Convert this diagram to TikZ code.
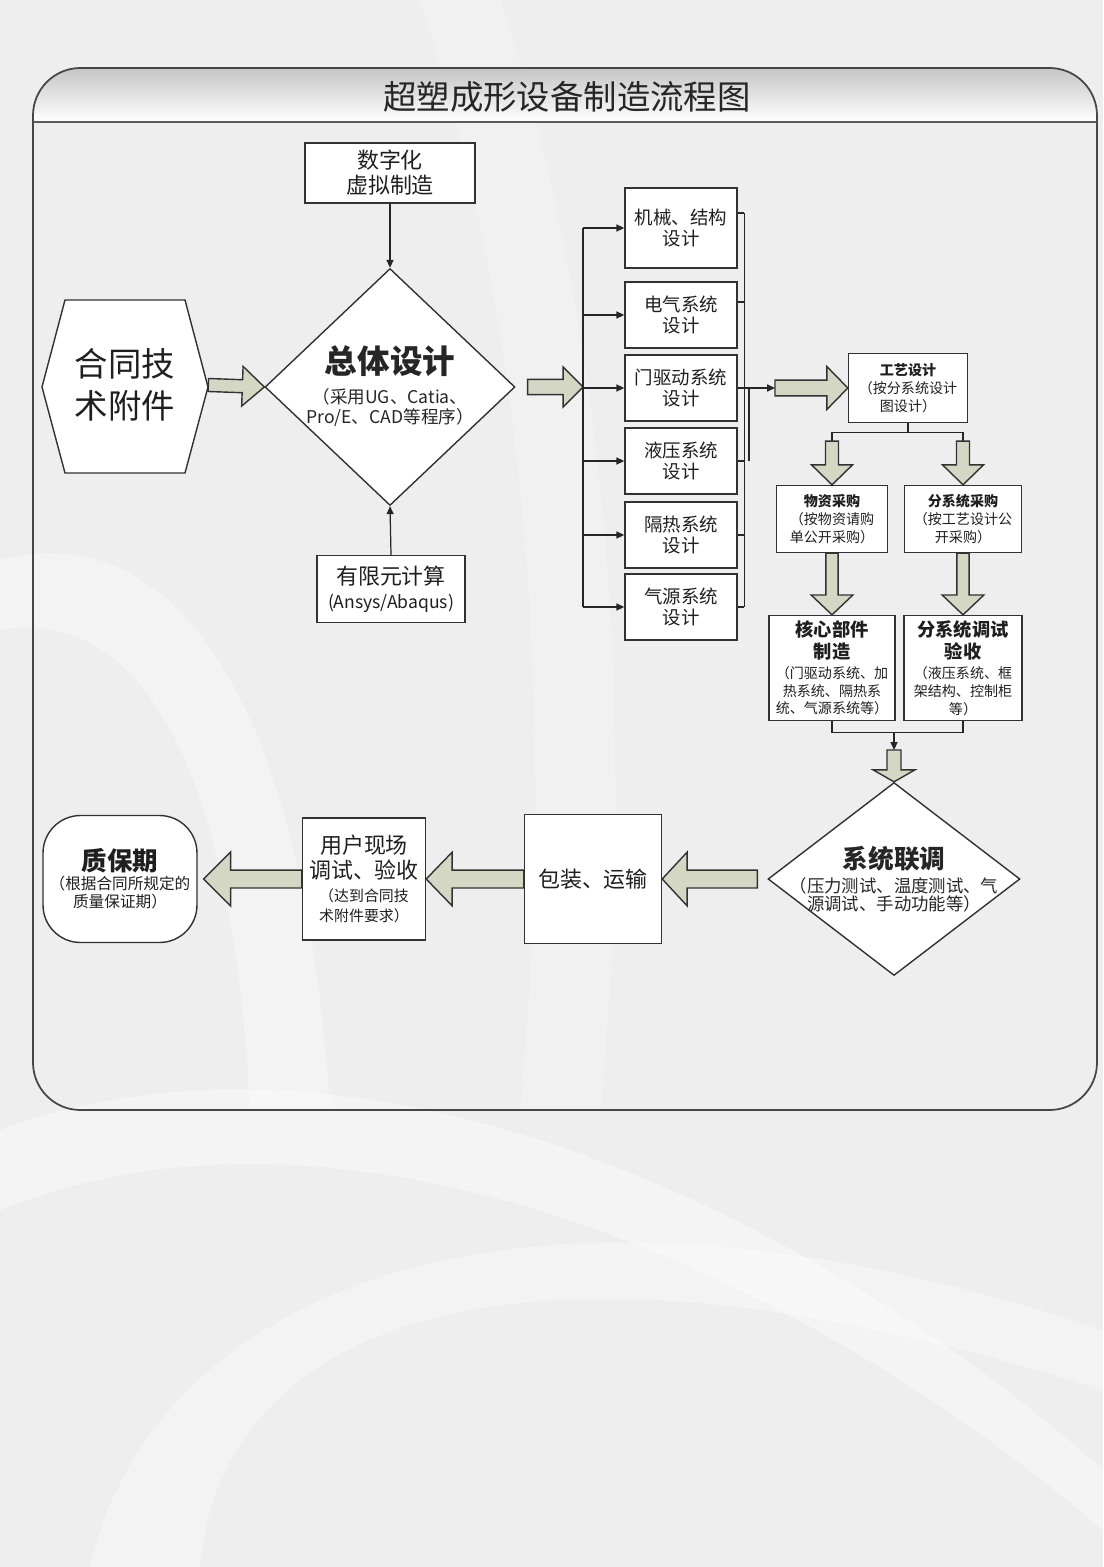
\documentclass[tikz,border=0pt]{standalone}
\usepackage{fontspec}
\setmainfont{Noto Sans CJK SC}
\usetikzlibrary{calc, arrows.meta, shapes.geometric}

\definecolor{pagegray}{RGB}{238,238,238}
\definecolor{arrowfill}{RGB}{212,215,196}
\definecolor{inkgray}{RGB}{50,50,50}
\definecolor{framegray}{RGB}{70,70,70}

\begin{document}
\begin{tikzpicture}[%
        x = 0.02cm,
        y = -0.02cm,
        > = {Triangle[length = 4.5pt, width = 4pt]},
        outline/.style = {%
            draw = inkgray,
            line width = 0.8pt,
            fill = white
        },
        box/.style = {%
            outline,
            align = center,
            inner sep = 1pt,
            text = black!88
        },
        design/.style = {%
            box,
            minimum width = 2.24cm,
            minimum height = 1.32cm,
            font = \fontsize{10.5}{12}\selectfont
        },
        decision/.style = {%
            outline,
            diamond,
            inner sep = 0pt
        },
        link/.style = {%
            draw = black!85,
            line width = 0.7pt
        },
        arrow/.style = {%
            link,
            ->
        },
        fat/.style n args = {3}{%
            draw = inkgray,
            line width = 0.8pt,
            fill = arrowfill,
            to path = {%
                let \p1 = (\tikztostart), \p2 = (\tikztotarget),
                    \p3 = ($(\p2)!#3!(\p1)$) in
                ($(\p1)!#1!90:(\p2)$) -- ($(\p3)!#1!90:(\p2)$)
                -- ($(\p3)!#2!90:(\p2)$) -- (\p2)
                -- ($(\p3)!#2!-90:(\p2)$) -- ($(\p3)!#1!-90:(\p2)$)
                -- ($(\p1)!#1!-90:(\p2)$) -- cycle
            }
        }
    ]

        % Page background with soft white swooshes.
        \fill[pagegray] (0,0) rectangle (1103,1567);
        \fill[white, opacity = 0.2] (420,0) .. controls (520,300) and (560,700) .. (520,1110)
            -- (600,1110) .. controls (640,700) and (600,300) .. (500,0) -- cycle;
        \fill[white, opacity = 0.3] (0,560) .. controls (150,520) and (300,650) .. (330,1110)
            -- (250,1110) .. controls (230,720) and (120,610) .. (0,630) -- cycle;
        \fill[white, opacity = 0.4] (0,1130) .. controls (350,1000) and (800,1200) .. (1103,1470)
            -- (1103,1530) .. controls (800,1270) and (350,1070) .. (0,1210) -- cycle;
        \fill[white, opacity = 0.3] (90,1567) .. controls (150,1300) and (500,1130) .. (1103,1330)
            -- (1103,1390) .. controls (500,1200) and (220,1330) .. (200,1567) -- cycle;

        % Frame with the shaded title band.
        \begin{scope}
            \clip[rounded corners = 0.95cm] (33,68) rectangle (1097,1110);
            \shade[top color = gray!45, bottom color = white] (33,68) rectangle (1097,122);
        \end{scope}
        \draw[framegray, line width = 1pt, rounded corners = 0.95cm] (33,68) rectangle (1097,1110);
        \draw[gray!70!black, line width = 1.4pt] (33,122) -- (1097,122);
        \node[font = \fontsize{19}{22}\selectfont, text = black!85] (title) at (567,97) {超塑成形设备制造流程图};

        % Contract appendix, drawn as a hexagon.
        \filldraw[outline] (42,387) -- (65,300) -- (185,300) -- (208,387) -- (185,473) -- (65,473) -- cycle;
        \node[align = center, minimum width = 3.32cm, minimum height = 3.46cm,
            font = \fontsize{19}{23.8}\selectfont, text = black!88] (contract) at (125,385) {合同技\\术附件};

        % Overall design with its two inputs.
        \node[box, minimum width = 3.4cm, minimum height = 1.2cm,
            font = \fontsize{12.5}{14.2}\selectfont] (digital) at (390,173) {数字化\\虚拟制造};
        \node[decision, minimum width = 5cm, minimum height = 4.74cm] (overall) at (390,387) {};
        \node[align = center, font = \fontsize{10}{11.3}\selectfont, text = black!85] (overalltext) at (390,386)
            {{\fontsize{18.5}{20}\selectfont\bfseries 总体设计}\\[6pt]（采用UG、Catia、\\Pro/E、CAD等程序）};
        \node[box, minimum width = 2.96cm, minimum height = 1.34cm,
            font = \fontsize{12.5}{13.5}\selectfont] (fem) at (391,589)
            {有限元计算\\{\fontsize{10}{12}\selectfont (Ansys/Abaqus)}};

        % Sub-system design boxes.
        \node[design, minimum height = 1.6cm] (mech) at (681,228) {机械、结构\\设计};
        \node[design] (elec) at (681,315) {电气系统\\设计};
        \node[design] (door) at (681,388) {门驱动系统\\设计};
        \node[design] (hyd) at (681,461) {液压系统\\设计};
        \node[design] (heat) at (681,535) {隔热系统\\设计};
        \node[design] (air) at (681,607) {气源系统\\设计};

        % Process design, purchasing, manufacture and tests.
        \node[box, minimum width = 2.38cm, minimum height = 1.38cm,
            font = \fontsize{8}{10.2}\selectfont] (process) at (908,388)
            {{\bfseries 工艺设计}\\（按分系统设计\\图设计）};
        \node[box, minimum width = 2.22cm, minimum height = 1.34cm,
            font = \fontsize{8}{10.2}\selectfont] (material) at (832,519)
            {{\bfseries 物资采购}\\（按物资请购\\单公开采购）};
        \node[box, minimum width = 2.34cm, minimum height = 1.34cm,
            font = \fontsize{8}{10.2}\selectfont] (subbuy) at (963,519)
            {{\bfseries 分系统采购}\\（按工艺设计公\\开采购）};
        \node[box, minimum width = 2.52cm, minimum height = 2.1cm,
            font = \fontsize{8}{10.2}\selectfont] (core) at (832,668)
            {{\fontsize{10.4}{12}\selectfont\bfseries 核心部件}\\[2.3pt]{\fontsize{10.4}{12}\selectfont\bfseries 制造}\\[1pt]%
            （门驱动系统、加\\热系统、隔热系\\统、气源系统等）};
        \node[box, minimum width = 2.36cm, minimum height = 2.1cm,
            font = \fontsize{8}{10.2}\selectfont] (subtest) at (963,668)
            {{\fontsize{10.4}{12}\selectfont\bfseries 分系统调试}\\[2.3pt]{\fontsize{10.4}{12}\selectfont\bfseries 验收}\\[1pt]%
            （液压系统、框\\架结构、控制柜\\等）};

        % System joint test and the bottom row.
        \node[decision, minimum width = 5.04cm, minimum height = 3.86cm] (joint) at (894,879) {};
        \node[align = center, font = \fontsize{9.9}{10.2}\selectfont, text = black!85] (jointtext) at (894,879)
            {{\fontsize{14.6}{16}\selectfont\bfseries 系统联调}\\[3.2pt]（压力测试、温度测试、气\\源调试、手动功能等）};
        \node[box, minimum width = 2.74cm, minimum height = 2.58cm,
            font = \fontsize{12.5}{14}\selectfont] (pack) at (593,879) {包装、运输};
        \node[box, minimum width = 2.46cm, minimum height = 2.44cm,
            font = \fontsize{8.5}{11.5}\selectfont] (user) at (364,879)
            {{\fontsize{12.5}{13}\selectfont 用户现场}\\[1.5pt]{\fontsize{12.5}{13}\selectfont 调试、验收}\\[1.5pt]%
            （达到合同技\\术附件要求）};
        \node[box, rounded corners = 0.75cm, minimum width = 3.08cm, minimum height = 2.54cm,
            font = \fontsize{8.9}{10.2}\selectfont] (warranty) at (120,879)
            {{\fontsize{14.5}{16}\selectfont\bfseries 质保期}\\[0.7pt]（根据合同所规定的\\质量保证期）};

        % Inputs to the overall design.
        \draw[arrow] (digital.south) -- (overall.north);
        \draw[arrow] (fem.north) -- (overall.south);
        \draw[fat = {3.7pt}{11.3pt}{12.5pt}] (contract.east) to (overall.west);

        % Left bus feeding the design boxes.
        \coordinate (busL) at (583,387);
        \draw[fat = {4.3pt}{11.3pt}{11.3pt}] ([xshift = 0.24cm]overall.east) to (overall.east -| busL);
        \draw[link] (mech.west -| busL) -- (air.west -| busL);
        \foreach \part in {mech, elec, door, hyd, heat, air}
            \draw[arrow] (\part.west -| busL) -- (\part.west);

        % Right bus collecting the design boxes.
        \foreach \part/\dy in {mech/0.3cm, elec/0.26cm, door/0cm, hyd/0cm, heat/0cm, air/0cm}
            \draw[link] ([yshift = \dy]\part.east) -- ++(0.13cm,0);
        \draw[link] ([xshift = 0.13cm, yshift = 0.3cm]mech.east) -- ([xshift = 0.13cm]air.east);
        \draw[link, line width = 1.3pt] ([xshift = 0.22cm]door.east) -- ([xshift = 0.22cm]hyd.east);
        \coordinate (procin) at (775,388);
        \draw[arrow] ([xshift = 0.13cm]door.east) -- (procin);
        \draw[fat = {4.5pt}{12.2pt}{11.9pt}] (procin) to (process.west);

        % Split below the process design.
        \draw[link] (process.south) -- ++(0,9) coordinate (split);
        \draw[link] (material.north |- split) -- (subbuy.north |- split);
        \foreach \part in {material, subbuy} {
            \draw[link] (\part.north |- split) -- ++(0,9) coordinate (\part-in);
            \draw[fat = {3.7pt}{11.6pt}{11.3pt}] (\part-in) to (\part.north);
        }
        \draw[fat = {3.5pt}{11.9pt}{11.3pt}] (material.south) to (core.north);
        \draw[fat = {3.5pt}{11.9pt}{11.3pt}] (subbuy.south) to (subtest.north);

        % Merge into the system joint test.
        \draw[link] (core.south) -- ++(0,11) coordinate (merge) -| (subtest.south);
        \coordinate (jointin) at (894,750);
        \draw[arrow] (merge -| joint.north) -- (jointin);
        \draw[fat = {4pt}{11.9pt}{6.8pt}] (jointin) to (joint.north);

        % Bottom row, from right to left.
        \coordinate (jointout) at ([xshift = -0.2cm]joint.west);
        \coordinate (warrin) at ([xshift = 0.12cm]warranty.east);
        \draw[fat = {5.1pt}{15.3pt}{14.2pt}] (jointout) to (pack.east);
        \draw[fat = {5.1pt}{15.3pt}{14.8pt}] (pack.west) to (user.east);
        \draw[fat = {5.1pt}{15.3pt}{15.3pt}] (user.west) to (warrin);
    \end{tikzpicture}
\end{document}
